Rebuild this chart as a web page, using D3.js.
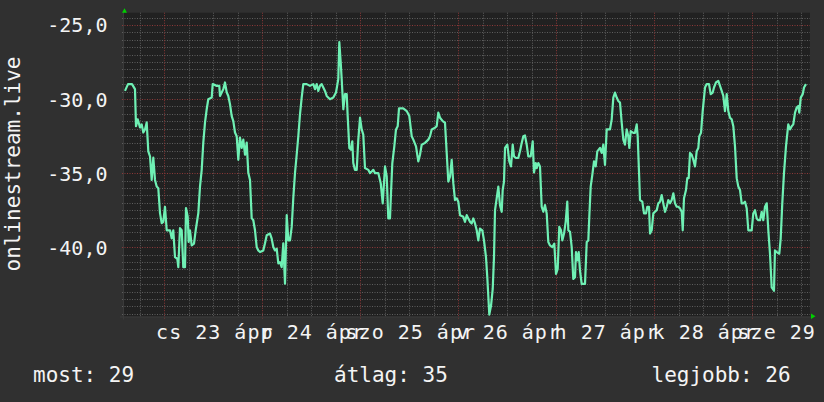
<!DOCTYPE html>
<html><head><meta charset="utf-8">
<script src="https://cdn.jsdelivr.net/npm/d3@7"></script>
<style>
html,body{margin:0;padding:0;background:#303030;}
svg{display:block;}
text{font-family:"DejaVu Sans Mono",monospace;fill:#f4f4f4;}
</style></head>
<body>
<svg id="chart" width="824" height="402"></svg>
<script>
// ---- data (hours since window start, value) ----
const hours = [0.24,0.98,1.96,2.69,2.94,3.36,3.92,4.33,4.73,5.14,5.56,5.95,6.37,6.78,7.18,7.59,8.01,8.40,8.82,9.23,9.62,10.04,10.46,11.27,11.68,12.07,12.49,13.05,13.30,13.71,14.13,14.52,14.94,15.18,15.60,15.84,16.16,16.58,17.14,17.63,18.20,18.61,19.03,19.42,19.84,20.25,20.64,21.48,21.72,22.70,23.34,23.51,23.93,24.32,24.73,25.15,25.54,25.96,26.38,26.77,27.18,27.60,27.99,28.41,28.82,29.22,29.63,30.05,30.44,30.86,31.27,31.67,32.08,32.50,32.89,33.31,34.11,34.53,34.95,35.76,36.17,36.56,36.98,37.40,37.79,38.20,38.62,39.01,39.43,39.85,40.24,40.65,41.07,41.46,41.88,42.29,42.69,43.10,43.52,43.91,44.74,45.55,46.36,46.78,47.19,47.58,48.00,48.42,48.81,49.22,49.64,50.45,51.26,51.92,52.48,52.73,53.07,53.31,53.71,54.12,54.54,54.78,55.18,55.59,55.91,56.15,56.57,56.99,57.38,57.80,58.21,58.60,59.02,59.83,60.25,60.66,61.05,61.47,62.28,62.87,63.36,63.92,64.34,64.73,65.14,65.39,65.71,66.20,66.61,67.03,67.35,68.40,69.23,69.87,70.46,70.85,71.51,72.07,72.49,72.91,73.72,74.52,74.94,75.36,76.16,76.58,76.97,77.39,78.05,78.61,79.03,79.42,79.84,80.25,80.65,81.06,81.48,81.87,82.29,83.09,83.51,83.93,84.32,84.74,85.15,85.54,85.96,86.38,86.77,87.18,87.75,88.16,88.65,88.97,89.46,89.88,90.30,90.61,90.86,91.27,91.67,92.08,92.50,92.74,93.06,93.31,93.87,94.36,94.78,95.19,95.51,96.00,96.56,96.98,97.40,97.79,98.20,98.62,99.01,99.60,100.09,100.41,100.83,101.07,101.46,101.88,102.29,102.69,103.10,103.52,103.91,104.33,104.89,105.38,105.80,106.21,106.60,107.02,107.34,107.76,108.17,108.56,108.81,109.23,109.64,110.03,110.45,110.69,111.01,111.36,111.67,112.09,112.90,113.32,113.71,113.95,114.29,114.69,115.10,115.52,115.91,116.57,116.99,117.38,117.80,118.21,119.02,119.44,119.83,120.24,120.66,121.05,121.47,121.89,122.28,122.69,123.11,123.50,123.75,124.09,124.73,125.14,125.56,125.80,126.12,126.37,126.93,127.35,127.84,128.16,128.57,128.82,129.23,129.63,130.04,130.46,130.85,131.27,131.68,132.07,132.49,132.91,133.30,133.72,134.13,134.53,134.94,135.36,135.75,136.16,136.58,136.83,137.14,137.63,137.95,138.29,138.61,139.03,139.42,139.84,140.25,140.65,140.89,141.31,141.72,142.29,142.70,143.27,143.68,144.17,144.49,144.98,145.54,145.96,146.38,146.77,147.18,147.60,147.99,148.41,148.82,149.22,149.63,150.05,150.44,150.86,151.27,151.67,152.08,152.50,152.89,153.72,154.11,154.53,154.95,155.34,155.76,156.17,156.56,156.98,157.40,157.79,158.20,158.62,159.18,159.42,159.84,160.48,160.82,161.21,161.63,162.12,162.68,163.10,163.52,163.91,164.33,164.74,165.14,165.38,165.73,166.22,166.53,167.02];
const values = [-29.45,-28.99,-28.99,-29.33,-31.83,-31.37,-31.92,-31.71,-32.26,-32.05,-31.58,-33.53,-33.87,-35.46,-33.96,-35.46,-35.91,-36.02,-37.70,-38.38,-38.29,-37.27,-38.86,-38.86,-39.40,-38.86,-40.67,-40.78,-41.35,-38.72,-38.86,-41.35,-41.35,-37.36,-37.95,-39.65,-38.86,-39.88,-39.76,-38.72,-37.70,-35.91,-34.78,-32.94,-31.58,-30.69,-30.01,-29.90,-28.99,-29.11,-29.11,-29.79,-29.56,-29.33,-28.88,-29.54,-29.79,-30.35,-31.15,-31.49,-32.26,-32.51,-34.10,-32.60,-33.30,-32.74,-33.76,-32.94,-34.98,-35.46,-38.04,-38.18,-38.86,-39.99,-40.22,-40.33,-40.22,-39.74,-39.20,-39.08,-39.42,-39.99,-40.22,-40.10,-41.10,-41.01,-41.35,-39.74,-42.46,-37.84,-39.54,-39.54,-38.63,-36.68,-34.98,-33.76,-32.51,-31.03,-29.88,-28.99,-28.99,-29.11,-28.99,-29.33,-28.99,-29.45,-29.11,-28.99,-29.22,-29.45,-29.79,-30.01,-29.90,-29.56,-28.65,-26.16,-27.52,-28.65,-30.69,-29.67,-29.67,-31.15,-33.30,-33.42,-32.85,-34.32,-34.78,-34.78,-32.74,-31.26,-32.05,-32.40,-34.66,-34.78,-35.00,-34.89,-34.78,-35.00,-35.00,-35.68,-37.04,-34.55,-35.23,-38.06,-38.06,-36.36,-34.32,-33.19,-32.05,-31.83,-30.63,-30.63,-30.81,-31.15,-32.51,-32.74,-33.19,-34.21,-33.76,-33.08,-32.96,-32.74,-32.51,-32.05,-31.94,-31.83,-30.92,-31.26,-31.49,-31.60,-33.64,-35.57,-35.23,-34.10,-35.68,-36.82,-36.70,-36.93,-37.84,-37.95,-38.29,-37.84,-38.06,-38.29,-38.40,-38.06,-38.40,-38.86,-39.54,-38.74,-38.86,-39.54,-40.67,-42.03,-44.55,-43.96,-42.82,-40.67,-37.50,-36.70,-35.91,-37.16,-37.61,-36.14,-35.57,-33.30,-33.08,-34.21,-34.55,-33.08,-33.87,-33.98,-33.98,-33.53,-32.96,-32.51,-32.46,-33.08,-33.87,-33.87,-32.85,-34.96,-34.32,-34.66,-34.32,-34.55,-37.27,-37.61,-37.16,-37.72,-39.65,-39.88,-39.99,-39.76,-41.80,-41.46,-38.63,-38.86,-39.54,-39.08,-38.29,-36.93,-38.86,-38.97,-39.99,-42.14,-42.03,-40.33,-40.90,-40.33,-41.58,-42.48,-42.48,-39.65,-39.54,-37.95,-35.91,-35.12,-34.21,-34.55,-33.53,-33.30,-33.64,-33.08,-34.44,-32.05,-32.05,-31.37,-29.90,-29.56,-29.90,-30.13,-30.24,-31.60,-32.74,-33.08,-32.05,-32.51,-33.30,-32.17,-32.28,-32.28,-31.71,-32.51,-34.89,-36.82,-36.93,-37.72,-37.72,-37.27,-37.27,-39.08,-38.86,-37.72,-37.61,-37.50,-37.04,-36.93,-36.48,-37.04,-37.61,-37.27,-36.82,-37.04,-36.82,-36.36,-37.04,-37.27,-37.27,-37.38,-37.61,-38.86,-36.70,-36.14,-35.34,-35.34,-33.64,-33.76,-34.10,-34.55,-33.53,-33.30,-32.51,-32.28,-30.81,-29.22,-28.99,-28.99,-29.67,-29.56,-29.22,-28.88,-28.77,-29.11,-29.45,-29.79,-30.81,-29.67,-30.81,-31.26,-31.37,-31.83,-33.19,-35.34,-35.91,-36.14,-37.04,-37.04,-36.93,-37.38,-38.86,-38.86,-37.72,-37.50,-38.06,-38.18,-38.18,-37.61,-38.18,-37.27,-37.04,-38.86,-40.44,-42.71,-42.94,-40.22,-40.33,-40.44,-39.42,-37.04,-35.00,-33.19,-31.71,-32.05,-31.83,-31.71,-30.92,-30.58,-30.47,-30.92,-29.90,-29.67,-29.22,-28.99];

const yMajorTicks = [-40, -35, -30, -25];
const weekdayNames = ["v", "h", "k", "sze", "cs", "p", "szo"]; // Sun..Sat (hu)
const monthName = "ápr";
const yTitle = "onlinestream.live";
const legendLabels = ["most", "átlag", "legjobb"];
const legendValues = [29, 35, 26];

// ---- scales ----
const HOUR = 3600e3;
const t0 = Date.UTC(2020, 3, 22, 14, 8);
const t1 = t0 + 168 * HOUR;
const L = 124, R = 810, T = 12.7, B = 316.5;
const x = d3.scaleUtc().domain([t0, t1]).range([L, R]);
const y = d3.scaleLinear().domain([-44.68, -24.17]).range([B, T]);

const svg = d3.select("#chart");
svg.append("rect").attr("width", 824).attr("height", 402).attr("fill", "#303030");
svg.append("rect").attr("x", L - 1).attr("y", T).attr("width", R - L + 1).attr("height", B - T)
  .attr("fill", "#212121");

const grid = svg.append("g");
const minorCol = "#5e5e5e", majorCol = "#8c3838", dash = "1,1.5";
// minor horizontal grid every 0.5
const yMinor = d3.range(-44.5, -24.2, 0.5).filter(v => !yMajorTicks.some(m => Math.abs(m - v) < 1e-6));
grid.selectAll("line.hmin").data(yMinor).join("line")
  .attr("x1", L - 2).attr("x2", R).attr("y1", d => Math.round(y(d)) + 0.5).attr("y2", d => Math.round(y(d)) + 0.5)
  .attr("stroke", minorCol).attr("stroke-width", 1).attr("stroke-dasharray", dash);
// minor vertical grid every 6h
const xMinor = d3.utcHour.every(6).range(new Date(t0), new Date(t1)).filter(d => d.getUTCHours() !== 0);
grid.selectAll("line.vmin").data(xMinor).join("line")
  .attr("x1", d => Math.round(x(d)) + 0.5).attr("x2", d => Math.round(x(d)) + 0.5)
  .attr("y1", T).attr("y2", B + 1)
  .attr("stroke", minorCol).attr("stroke-width", 1).attr("stroke-dasharray", dash);
// major
grid.selectAll("line.hmaj").data(yMajorTicks).join("line")
  .attr("x1", L - 2).attr("x2", R).attr("y1", d => Math.round(y(d)) + 0.5).attr("y2", d => Math.round(y(d)) + 0.5)
  .attr("stroke", majorCol).attr("stroke-width", 1).attr("stroke-dasharray", dash);
const xMajor = d3.utcDay.range(new Date(t0), new Date(t1));
grid.selectAll("line.vmaj").data(xMajor).join("line")
  .attr("x1", d => Math.round(x(d)) + 0.5).attr("x2", d => Math.round(x(d)) + 0.5)
  .attr("y1", T).attr("y2", B + 2)
  .attr("stroke", majorCol).attr("stroke-width", 1).attr("stroke-dasharray", dash);

// axes lines (subtle)
svg.append("line").attr("x1", L - 4).attr("x2", R + 1).attr("y1", B + 0.5).attr("y2", B + 0.5)
  .attr("stroke", "#3a3a3a");
svg.append("line").attr("x1", L - 0.5).attr("x2", L - 0.5).attr("y1", T - 1).attr("y2", B + 3)
  .attr("stroke", "#3a3a3a");
// arrows
svg.append("path").attr("d", `M${L - 2},${T} L${L + 3},${T} L${L + 0.5},${T - 4.5} Z`).attr("fill", "#00d000");
svg.append("path").attr("d", `M${R + 1},${B - 3} L${R + 1},${B + 2.5} L${R + 5.5},${B - 0.25} Z`).attr("fill", "#00d000");

// y labels
const fmt = v => d3.format(".1f")(v).replace(".", ",").replace("−", "-");
svg.selectAll("text.ylab").data(yMajorTicks).join("text")
  .attr("x", 107.5).attr("y", d => y(d) + 7.5)
  .attr("text-anchor", "end").style("font-size", "20px").text(fmt);

// x labels at noon
const noons = d3.utcHour.every(12).range(new Date(t0), new Date(t1)).filter(d => d.getUTCHours() === 12);
svg.selectAll("text.xlab").data(noons).join("text")
  .attr("x", d => x(d) + 1.5).attr("y", 339)
  .attr("text-anchor", "middle").style("font-size", "20px").style("letter-spacing", "1px")
  .text(d => `${weekdayNames[d.getUTCDay()]} ${d.getUTCDate()} ${monthName}`);

// y title
svg.append("text").attr("transform", "translate(20,164) rotate(-90)")
  .attr("text-anchor", "middle").style("font-size", "21px").text(yTitle);

// line
svg.append("clipPath").attr("id", "clip").append("rect")
  .attr("x", L).attr("y", T - 2).attr("width", R - L).attr("height", B - T + 3);
const pts = hours.map((h, i) => ({ t: new Date(t0 + h * HOUR), v: values[i] }));
svg.append("path").datum(pts)
  .attr("clip-path", "url(#clip)")
  .attr("d", d3.line().x(d => x(d.t)).y(d => y(d.v)))
  .attr("fill", "none").attr("stroke", "#6ff0b4").attr("stroke-width", 2.2)
  .attr("stroke-linejoin", "round");

// legend
const legendX = [33, 334, 651.5];
svg.selectAll("text.leg").data(legendLabels).join("text")
  .attr("x", (d, i) => legendX[i]).attr("y", 382)
  .style("font-size", "21px")
  .text((d, i) => `${d}: ${legendValues[i]}`);
</script>
</body></html>
